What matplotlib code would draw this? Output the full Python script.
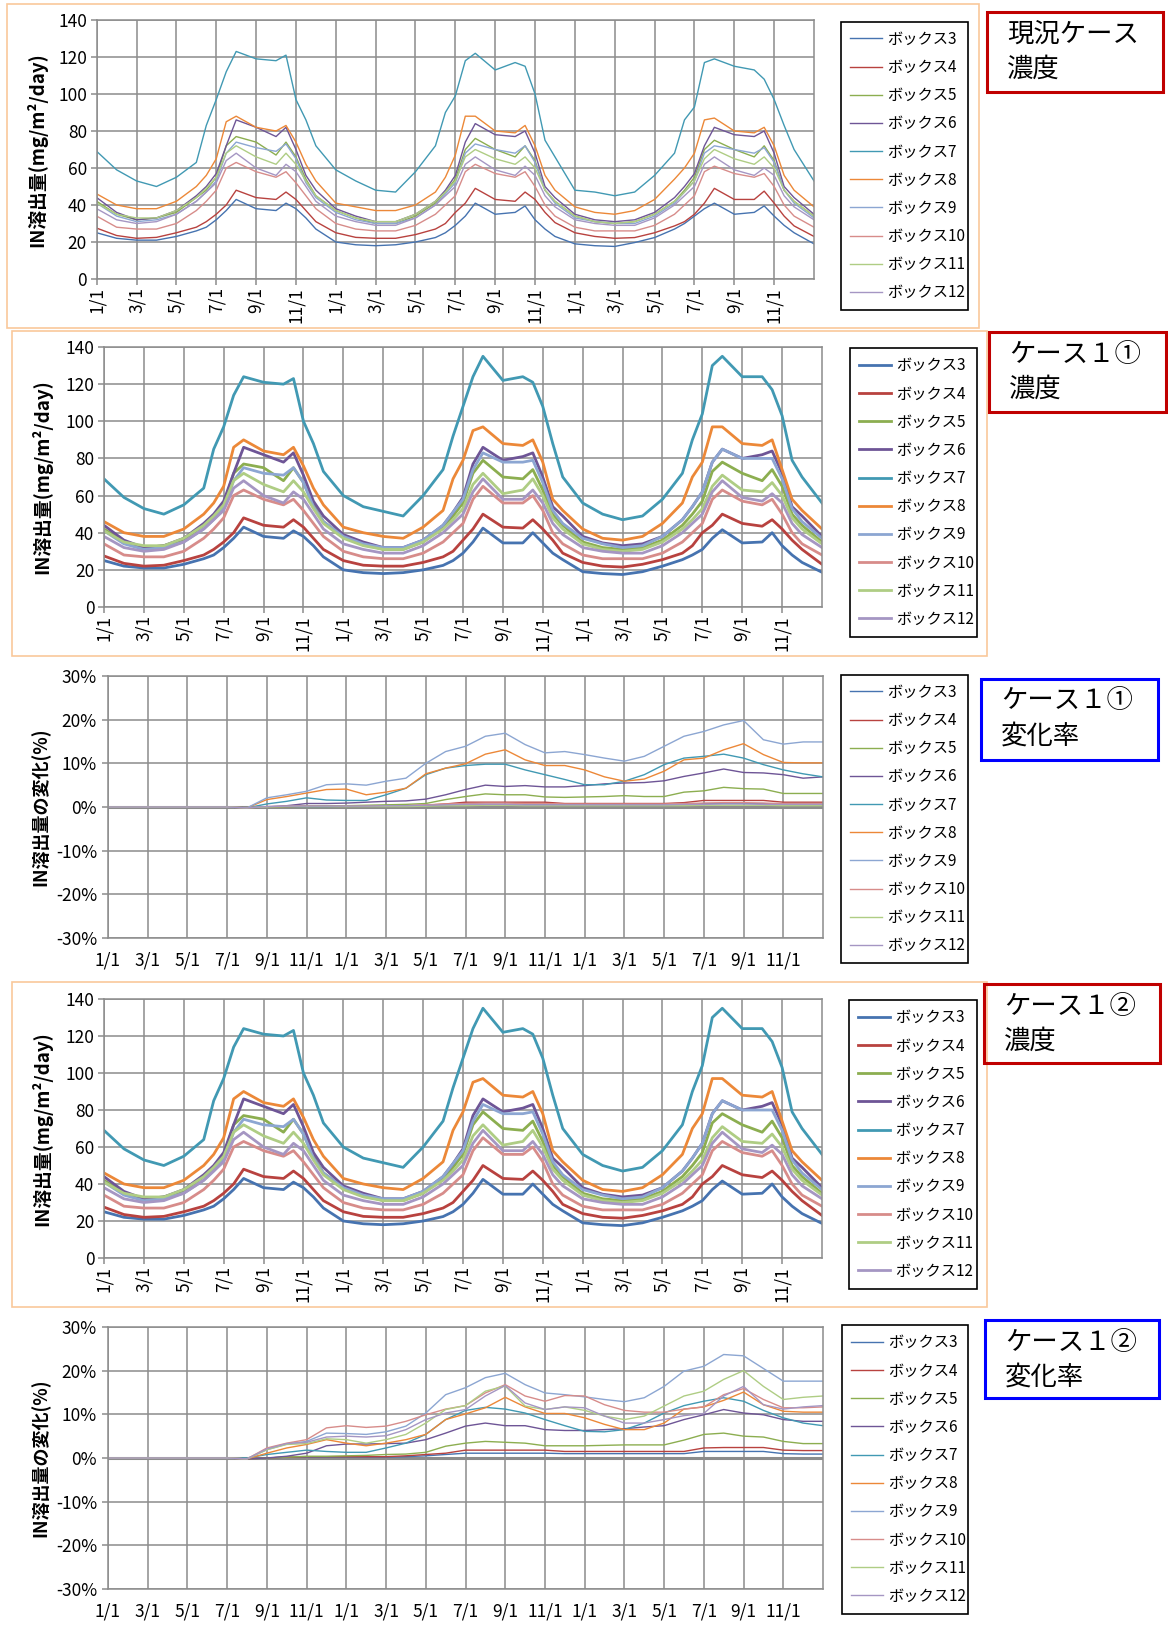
import matplotlib
matplotlib.use('Agg')
import matplotlib.pyplot as plt
from matplotlib.patches import Rectangle

plt.rcParams['font.family'] = ['Noto Sans CJK JP', 'DejaVu Sans']

# sample positions in months from 1/1 of the first year
year_steps = [0, 1, 2, 3, 4, 5, 5.5, 6, 6.5, 7, 8, 9, 9.5, 10, 10.5, 11]
conc_months = [12 * y + s for y in range(3) for s in year_steps] + [36]
rate_months = list(range(37))

box_names = ['ボックス3', 'ボックス4', 'ボックス5', 'ボックス6', 'ボックス7',
             'ボックス8', 'ボックス9', 'ボックス10', 'ボックス11', 'ボックス12']
box_colors = ['#4673b0', '#b8423f', '#8cae50', '#6e5596', '#4199b3',
              '#ec8838', '#8ca6d2', '#d78c8a', '#afcd84', '#a596c3']
month_labels = ['1/1', '3/1', '5/1', '7/1', '9/1', '11/1'] * 3

# ---- 現況ケース 濃度 (mg/m2/day) ----
base_box3 = [25, 22, 21, 21, 23, 26, 28, 32, 37, 43, 38, 37, 41, 38, 33, 27,
             20, 18.5, 18, 18.5, 20, 22.4, 25, 29, 34, 41, 35, 36, 39.5, 32, 27, 23,
             19, 18, 17.6, 19.7, 22.4, 27, 30, 34, 38, 41, 35, 36, 39.5, 34, 29, 25,
             19]
base_box4 = [27.5, 23.5, 22, 22.5, 25, 28, 31, 35, 40, 48, 44, 43, 47, 43, 37, 31,
             25, 22.5, 22, 22, 24, 27, 30, 36, 41, 49, 43, 42, 47, 43, 36, 30.5,
             25, 23, 22, 22.4, 25, 28.7, 31, 35, 41, 49, 43, 43, 47.5, 41, 34, 28.7,
             23]
base_box5 = [42, 35, 32, 33, 36, 44, 48, 55, 72, 77, 74, 67, 74, 66, 54, 45,
             37, 33, 30, 30, 34, 41, 47, 54, 70, 76, 70, 66, 72, 64, 48, 42,
             34, 31, 30, 31, 35, 42, 48, 55, 70, 75, 70, 66, 72, 64, 48, 42,
             34]
base_box6 = [44, 36, 32, 33, 37, 45, 50, 57, 72, 86, 82, 77, 82, 70, 56, 48,
             38, 34, 31, 31, 35, 42, 48, 56, 74, 84, 78, 77, 80, 68, 50, 44,
             35, 32, 31, 32, 36, 44, 50, 57, 72, 82, 78, 77, 80, 68, 50, 44,
             35]
base_box7 = [69, 59, 53, 50, 55, 63, 83, 97, 112, 123, 119, 118, 121, 97, 86, 72,
             59, 53, 48, 47, 58, 72, 90, 99, 118, 122, 113, 117, 115, 100, 75, 66,
             48, 47, 45, 47, 56, 68, 86, 93, 117, 119, 115, 113, 108, 97, 83, 70,
             53]
base_box8 = [46, 40, 38, 38, 42, 50, 56, 65, 85, 88, 82, 80, 83, 74, 62, 53,
             41, 39, 37, 37, 40, 47, 55, 67, 88, 88, 80, 79, 83, 72, 56, 48,
             39, 36, 35, 37, 43, 54, 60, 68, 86, 87, 80, 79, 82, 72, 56, 48,
             39]
base_box9 = [41, 34, 31, 32, 35, 42, 47, 53, 68, 74, 71, 69, 73, 65, 52, 44,
             36, 32, 30, 30, 33, 40, 46, 52, 68, 73, 70, 68, 72, 63, 48, 41,
             33, 31, 30, 30, 34, 41, 47, 53, 68, 72, 70, 68, 71, 63, 48, 41,
             33]
base_box10 = [34, 28, 27, 27, 30, 37, 42, 48, 60, 63, 58, 55, 58, 52, 45, 38,
              30, 27, 26, 26, 29, 35, 40, 45, 58, 62, 57, 55, 58, 50, 40, 34,
              28, 26, 26, 26, 29, 35, 40, 45, 58, 61, 57, 55, 57, 50, 40, 34,
              28]
base_box11 = [41, 35, 33, 33, 37, 44, 49, 55, 68, 72, 66, 62, 68, 62, 53, 45,
              37, 33, 31, 31, 35, 42, 47, 53, 66, 70, 65, 62, 66, 60, 48, 42,
              34, 31, 30, 31, 35, 42, 47, 53, 65, 70, 65, 62, 66, 60, 48, 42,
              34]
base_box12 = [38, 32, 30, 31, 35, 42, 47, 52, 64, 68, 60, 56, 62, 58, 50, 42,
              34, 31, 29, 29, 33, 40, 45, 50, 62, 66, 59, 56, 61, 56, 45, 39,
              32, 30, 29, 29, 33, 40, 45, 50, 62, 66, 59, 56, 60, 56, 45, 39,
              32]

# ---- ケース1 濃度 (same readings used for ① and ②) ----
case1_box3 = [25, 22, 21, 21, 23, 26, 28, 32, 37, 43, 38, 37, 41, 38, 33, 27,
              20, 18.5, 18, 18.5, 20, 22.4, 25, 29, 35, 42.5, 34.5, 34.5, 40, 34.5, 29, 25.5,
              19, 18, 17.5, 19, 22, 25.5, 28, 31, 37, 41.6, 34.5, 35, 40, 33, 28, 24,
              18.7]
case1_box4 = [27.5, 23.5, 22, 22.5, 25, 28, 31, 35, 40, 48, 44, 43, 47, 43, 37, 31,
              25, 22.5, 22, 22, 24, 27, 30, 36, 42, 50, 43, 42.5, 47, 42, 36, 29,
              24, 22, 21.5, 23, 25.5, 29, 33, 40, 44, 50, 45, 43.5, 47, 42, 36, 31,
              23]
case1_box5 = [42, 35, 32, 33, 36, 44, 48, 55, 72, 77, 75, 68, 75, 67, 55, 46,
              38, 34, 31, 31, 35, 43, 49, 56, 72, 79, 70, 69, 74, 63, 50, 44,
              35, 32, 31, 32, 36, 44, 50, 57, 73, 78, 72, 68, 74, 65, 50, 44,
              35]
case1_box6 = [44, 36, 32, 33, 37, 45, 50, 57, 72, 86, 82, 78, 83, 71, 57, 49,
              39, 35, 32, 32, 36, 44, 51, 59, 77, 86, 79, 81, 83, 70, 54, 49,
              38, 34.5, 33, 34, 38, 47, 54, 62, 78, 85, 80, 82, 84, 72, 54, 49,
              38]
case1_box7 = [69, 59, 53, 50, 55, 64, 85, 97, 114, 124, 121, 120, 123, 100, 88, 73,
              60, 54, 51.5, 49, 60, 74, 92, 108, 124, 135, 122, 124, 121, 108, 88, 70,
              56, 50, 47, 49, 58, 72, 90, 104, 130, 135, 124, 124, 117, 103, 79, 70,
              56]
case1_box8 = [46, 40, 38, 38, 42, 50, 56, 65, 86, 90, 84, 82, 86, 76, 64, 55,
              43, 40, 38, 37, 43, 52, 69, 79, 95, 97, 88, 87, 90, 78, 58, 52,
              42, 37, 36, 38, 45, 56, 70, 78, 97, 97, 88, 87, 90, 74, 58, 52,
              42]
case1_box9 = [41, 34, 31, 32, 35, 42, 47, 53, 68, 75, 72, 71, 75, 67, 54, 46,
              38, 34, 32, 32, 36, 44, 51, 58, 74, 83, 78, 78, 79, 67, 52, 45,
              37, 34, 32, 33, 38, 47, 54, 62, 78, 85, 80, 80, 80, 69, 53, 46,
              37]
case1_box10 = [34, 28, 27, 27, 30, 37, 42, 48, 60, 63, 58, 55, 58, 52, 45, 38,
               30, 27, 26, 26, 29, 35, 40, 45, 58, 65, 56, 56, 60, 52, 40, 34,
               28, 26, 26, 26, 29, 35, 40, 45, 58, 63, 57, 55, 58, 50, 40, 34,
               28]
case1_box11 = [41, 35, 33, 33, 37, 44, 49, 55, 68, 72, 66, 62, 68, 62, 53, 45,
               37, 33, 31, 31, 35, 42, 47, 53, 66, 72, 61, 63, 69, 60, 48, 42,
               34, 31, 30, 31, 35, 42, 47, 53, 65, 71, 63, 62, 67, 60, 48, 42,
               34]
case1_box12 = [38, 32, 30, 31, 35, 42, 47, 52, 64, 68, 60, 56, 62, 58, 50, 42,
               34, 31, 29, 29, 33, 40, 45, 50, 62, 69, 58, 58, 63, 56, 45, 39,
               32, 30, 29, 29, 33, 40, 45, 50, 62, 68, 59, 57, 61, 56, 45, 39,
               32]

# ---- ケース1① 変化率 (%), monthly ----
rate1_box3 = [0, 0, 0, 0, 0, 0, 0, -0.2, 0, 0.1, 0.1, 0.1,
              0.2, 0.2, 0.2, 0.2, 0.3, 0.5, 0.6, 0.6, 0.6, 0.6, 0.6, 0.5,
              0.5, 0.5, 0.5, 0.5, 0.5, 0.5, 0.8, 0.8, 0.8, 0.8, 0.5, 0.5, 0.5]
rate1_box4 = [0, 0, 0, 0, 0, 0, 0, -0.2, 0, 0.1, 0.2, 0.2,
              0.2, 0.2, 0.3, 0.3, 0.4, 0.7, 1.1, 1.1, 1.1, 1.1, 1.1, 0.8,
              0.8, 0.8, 0.8, 0.8, 0.8, 1.0, 1.5, 1.5, 1.5, 1.5, 1.1, 1.1, 1.1]
rate1_box5 = [0, 0, 0, 0, 0, 0, 0, -0.2, 0, 0.1, 0.2, 0.3,
              0.3, 0.4, 0.5, 0.6, 0.8, 1.7, 2.4, 3.0, 2.8, 2.8, 2.3, 2.2,
              2.3, 2.4, 2.6, 2.4, 2.4, 3.4, 3.7, 4.5, 4.2, 4.1, 3.1, 3.1, 3.1]
rate1_box6 = [0, 0, 0, 0, 0, 0, 0, -0.2, 0, 0.3, 0.8, 0.8,
              0.9, 1.1, 1.3, 1.4, 1.8, 2.8, 4.0, 5.0, 4.7, 4.9, 4.6, 4.6,
              4.9, 5.3, 5.5, 5.6, 6.0, 7.0, 7.8, 8.7, 7.9, 7.8, 7.4, 6.6, 6.9]
rate1_box7 = [0, 0, 0, 0, 0, 0, 0, -0.2, 0.7, 1.3, 2.1, 1.6,
              1.5, 1.5, 2.8, 4.3, 7.4, 8.9, 9.5, 9.8, 9.8, 8.5, 7.4, 6.3,
              5.1, 5.1, 5.9, 7.4, 9.7, 11.2, 11.6, 12.1, 11.2, 9.7, 8.5, 7.6, 6.9]
rate1_box8 = [0, 0, 0, 0, 0, 0, 0, -0.2, 1.7, 2.4, 3.2, 4.0,
              4.1, 2.8, 3.4, 4.3, 7.6, 8.9, 9.9, 12.1, 13.1, 10.8, 9.5, 9.5,
              8.5, 6.9, 5.9, 6.4, 8.2, 10.8, 11.2, 13.1, 14.5, 12.0, 10.2, 10.1, 10.1]
rate1_box9 = [0, 0, 0, 0, 0, 0, 0, -0.2, 2.1, 2.8, 3.6, 5.1,
              5.3, 5.0, 5.9, 6.6, 10.0, 12.7, 13.9, 16.2, 16.9, 14.3, 12.4, 12.7,
              12.0, 11.2, 10.5, 11.6, 13.9, 16.2, 17.3, 18.8, 19.8, 15.4, 14.4, 14.9, 14.9]
rate1_box10 = [0, 0, 0, 0, 0, 0, 0, -0.2, 0.1, 0.2, 0.2, 0.2,
               0.2, 0.2, 0.2, 0.3, 0.5, 0.7, 0.8, 0.9, 0.9, 0.8, 0.8, 0.7,
               0.7, 0.7, 0.7, 0.7, 0.7, 0.8, 0.9, 1.0, 1.0, 0.9, 0.8, 0.8, 0.8]
rate1_box11 = [0, 0, 0, 0, 0, 0, 0, -0.2, 0, 0.1, 0.1, 0.1,
               0.1, 0.1, 0.1, 0.1, 0.2, 0.3, 0.3, 0.4, 0.4, 0.3, 0.3, 0.3,
               0.3, 0.3, 0.3, 0.3, 0.3, 0.3, 0.4, 0.4, 0.4, 0.4, 0.3, 0.3, 0.3]
rate1_box12 = [0, 0, 0, 0, 0, 0, 0, -0.2, 0.1, 0.2, 0.2, 0.2,
               0.2, 0.2, 0.3, 0.3, 0.4, 0.5, 0.6, 0.6, 0.6, 0.5, 0.5, 0.5,
               0.5, 0.5, 0.5, 0.5, 0.5, 0.6, 0.6, 0.7, 0.7, 0.6, 0.6, 0.6, 0.6]

# ---- ケース1② 変化率 (%), monthly ----
rate2_box3 = [0, 0, 0, 0, 0, 0, 0, -0.2, 0, 0.2, 0.2, 0.2,
              0.2, 0.2, 0.2, 0.3, 0.5, 0.8, 1.1, 1.1, 1.1, 1.1, 1.1, 1.0,
              1.0, 1.0, 1.0, 1.0, 1.0, 1.0, 1.5, 1.5, 1.5, 1.5, 1.0, 0.9, 0.9]
rate2_box4 = [0, 0, 0, 0, 0, 0, 0, -0.2, 0, 0.2, 0.3, 0.3,
              0.3, 0.3, 0.3, 0.5, 0.8, 1.1, 1.8, 1.8, 1.8, 1.8, 1.8, 1.5,
              1.5, 1.5, 1.5, 1.5, 1.5, 1.5, 2.3, 2.4, 2.4, 2.4, 1.8, 1.7, 1.7]
rate2_box5 = [0, 0, 0, 0, 0, 0, 0, -0.2, 0, 0.2, 0.4, 0.4,
              0.5, 0.6, 0.8, 0.9, 1.3, 2.7, 3.4, 3.8, 3.6, 3.4, 2.8, 2.8,
              2.8, 2.9, 3.0, 3.0, 3.0, 4.1, 5.4, 5.7, 5.0, 4.8, 3.8, 3.3, 3.3]
rate2_box6 = [0, 0, 0, 0, 0, 0, 0, -0.2, 0, 0.4, 1.1, 2.8,
              3.2, 3.2, 3.3, 3.4, 4.2, 5.7, 7.3, 8.0, 7.4, 7.4, 6.5, 6.3,
              6.3, 6.5, 6.7, 7.1, 7.4, 8.8, 9.9, 11.1, 10.3, 9.9, 8.8, 8.4, 8.4]
rate2_box7 = [0, 0, 0, 0, 0, 0, 0, 0, 0.8, 1.3, 1.8, 1.5,
              1.3, 1.3, 2.3, 3.4, 5.4, 8.8, 10.9, 11.6, 11.2, 10.3, 8.8, 7.4,
              6.1, 6.0, 6.5, 8.0, 10.3, 12.0, 13.0, 13.8, 13.0, 10.9, 9.2, 8.0, 7.4]
rate2_box8 = [0, 0, 0, 0, 0, 0, 0, -0.2, 1.1, 2.3, 3.1, 4.2,
              3.4, 2.8, 3.4, 4.2, 5.4, 8.8, 10.1, 11.5, 13.9, 11.7, 10.2, 10.2,
              9.2, 7.7, 6.5, 6.5, 8.0, 11.2, 11.7, 13.2, 15.1, 12.2, 10.7, 10.5, 10.5]
rate2_box9 = [0, 0, 0, 0, 0, 0, 0, -0.2, 1.9, 3.2, 3.8, 5.7,
              5.6, 5.4, 6.0, 7.3, 10.3, 14.5, 16.1, 18.4, 19.4, 16.8, 14.9, 14.5,
              14.0, 13.4, 12.9, 13.8, 16.4, 19.9, 21.0, 23.7, 23.4, 20.5, 17.6, 17.6, 17.6]
rate2_box10 = [0, 0, 0, 0, 0, 0, 0, -0.2, 2.3, 3.4, 4.2, 6.9,
               7.4, 7.0, 7.3, 8.4, 9.9, 11.2, 12.0, 14.9, 16.8, 14.2, 13.0, 14.3,
               14.2, 12.2, 10.9, 10.5, 10.5, 11.2, 11.7, 14.5, 15.9, 13.4, 11.5, 11.5, 11.7]
rate2_box11 = [0, 0, 0, 0, 0, 0, 0, -0.2, 1.9, 3.1, 3.3, 4.4,
               4.2, 3.4, 4.2, 5.4, 8.0, 11.1, 12.0, 15.3, 16.5, 11.9, 11.1, 11.7,
               10.9, 9.6, 8.8, 9.6, 11.9, 14.2, 15.3, 18.0, 20.0, 16.4, 13.4, 13.9, 14.2]
rate2_box12 = [0, 0, 0, 0, 0, 0, 0, -0.2, 2.1, 3.3, 3.6, 4.8,
               5.0, 4.8, 5.1, 6.5, 8.8, 10.3, 11.1, 14.2, 16.6, 12.6, 11.1, 11.7,
               11.5, 9.6, 8.0, 8.0, 8.8, 9.7, 10.2, 14.2, 16.4, 12.2, 11.2, 11.7, 12.0]

base_conc = [base_box3, base_box4, base_box5, base_box6, base_box7,
             base_box8, base_box9, base_box10, base_box11, base_box12]
case1_conc = [case1_box3, case1_box4, case1_box5, case1_box6, case1_box7,
              case1_box8, case1_box9, case1_box10, case1_box11, case1_box12]
rate1 = [rate1_box3, rate1_box4, rate1_box5, rate1_box6, rate1_box7,
         rate1_box8, rate1_box9, rate1_box10, rate1_box11, rate1_box12]
rate2 = [rate2_box3, rate2_box4, rate2_box5, rate2_box6, rate2_box7,
         rate2_box8, rate2_box9, rate2_box10, rate2_box11, rate2_box12]

W, H = 1168, 1629
fig = plt.figure(figsize=(W / 100, H / 100), dpi=100)
grid_color = '#8c8c8c'


def px_rect(l, t, r, b):
    # pixel box (from top-left) -> figure fraction [x, y, w, h]
    return (l / W, 1 - b / H, (r - l) / W, (b - t) / H)


def box(l, t, r, b, color, lw):
    x, y, w, h = px_rect(l, t, r, b)
    fig.add_artist(Rectangle((x, y), w, h, transform=fig.transFigure,
                             fill=False, edgecolor=color, lw=lw))


def draw_panel(rect, months, series, lw, legend_rect, ylabel, ylabel_x, rate=False):
    ax = fig.add_axes(px_rect(*rect))
    handles = []
    for name, vals, col in zip(box_names, series, box_colors):
        ln, = ax.plot(months, vals, color=col, lw=lw, label=name, zorder=2)
        handles.append(ln)
    ax.set_xlim(0, 36)
    ax.set_xticks(range(0, 36, 2))
    if rate:
        ax.set_ylim(-30, 30)
        ax.set_yticks(range(-30, 31, 10))
        ax.set_yticklabels([f'{v}%' for v in range(-30, 31, 10)])
        ax.set_xticklabels(month_labels)
        ax.axhline(0, color=grid_color, lw=2.2, zorder=1.5)
        ax.tick_params(axis='x', length=0, pad=10)
        ax.tick_params(axis='y', length=4, pad=4)
    else:
        ax.set_ylim(0, 140)
        ax.set_yticks(range(0, 141, 20))
        ax.set_xticklabels(month_labels, rotation=90)
        ax.tick_params(axis='x', length=4, pad=2)
        ax.tick_params(axis='y', length=4, pad=3)
    ax.grid(True, color=grid_color, lw=1.1)
    ax.set_axisbelow(True)
    for sp in ax.spines.values():
        sp.set_color(grid_color)
        sp.set_linewidth(1.1)
    ax.tick_params(colors=grid_color, labelcolor='black', labelsize=12.5, width=1.1)

    l, t, r, b = rect
    fig.text(ylabel_x / W, 1 - (t + b) / 2 / H, ylabel, rotation=90,
             ha='center', va='center', fontsize=13.5 if not rate else 13,
             fontweight='bold')

    fig.legend(handles=handles, loc='center', bbox_to_anchor=px_rect(*legend_rect),
               bbox_transform=fig.transFigure, mode='expand', fancybox=False,
               edgecolor='black', framealpha=1, fontsize=11, handlelength=2.1,
               handletextpad=0.35, labelspacing=0.73, borderpad=0.6,
               borderaxespad=0).get_frame().set_linewidth(1.2)


def title_box(rect, color, line1, line2):
    l, t, r, b = rect
    box(l, t, r, b, color, 2.2)
    fig.text((l + 20) / W, 1 - (t + 22) / H, line1, fontsize=19, va='center', ha='left')
    fig.text((l + 20) / W, 1 - (t + 57) / H, line2, fontsize=19, va='center', ha='left')


conc_label = 'IN溶出量(mg/m²/day)'
rate_label = 'IN溶出量の変化(%)'

# orange frames around the concentration charts
box(7, 4, 979, 328, '#f9c89b', 1.2)
box(12, 331, 987, 656, '#f9c89b', 1.2)
box(12, 982, 987, 1307, '#f9c89b', 1.2)

draw_panel((96.7, 20, 814, 279), conc_months, base_conc, 1.0,
           (841, 19, 968, 313), conc_label, 37)
draw_panel((104, 347, 822, 607), conc_months, case1_conc, 2.0,
           (850, 346, 977, 639), conc_label, 42)
draw_panel((108, 676, 823, 938), rate_months, rate1, 1.0,
           (841, 672, 968, 966), rate_label, 41, rate=True)
draw_panel((104, 999, 822, 1258), conc_months, case1_conc, 2.0,
           (849, 997, 977, 1292), conc_label, 42)
draw_panel((108, 1327, 823, 1589), rate_months, rate2, 1.0,
           (842, 1323, 968, 1616), rate_label, 41, rate=True)

title_box((987, 12, 1163, 92), '#c00000', '現況ケース', '濃度')
title_box((989, 332, 1166, 412), '#c00000', 'ケース１①', '濃度')
title_box((981, 679, 1158, 760), '#0000ff', 'ケース１①', '変化率')
title_box((984, 984, 1160, 1063), '#c00000', 'ケース１②', '濃度')
title_box((985, 1320, 1159, 1398), '#0000ff', 'ケース１②', '変化率')

fig.savefig('out.png', dpi=100)
